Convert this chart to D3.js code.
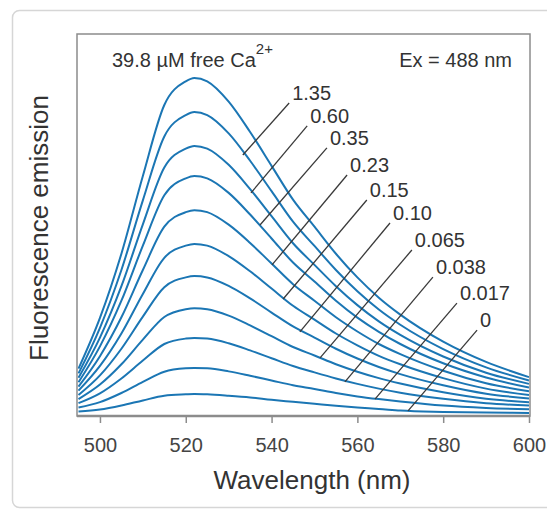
<!DOCTYPE html>
<html>
<head>
<meta charset="utf-8">
<script src="https://cdn.jsdelivr.net/npm/d3@7"></script>
<style>
  body { margin: 0; background: #fff; }
  svg { display: block; font-family: "Liberation Sans", Arial, sans-serif; }
</style>
</head>
<body>
<div id="chart"></div>
<script>
// wavelengths sampled along every curve (nm)
const wavelengths = [495, 500, 505, 510, 515, 520, 522, 525, 530, 535, 540, 545, 550, 555, 560, 565, 570, 580, 590, 600];

// free Ca2+ (uM), top curve first
const concentrations = ['39.8', '1.35', '0.60', '0.35', '0.23', '0.15', '0.10', '0.065', '0.038', '0.017', '0'];

// fluorescence emission (arbitrary units)
const em398  = [14.0, 29.0, 48.0, 71.0, 92.0, 99.0, 100, 99.0, 93.0, 84.0, 74.0, 64.0, 56.0, 48.0, 41.0, 35.0, 30.0, 22.0, 16.0, 11.5];
const em135  = [12.6, 26.1, 43.2, 63.8, 82.7, 89.0, 89.9, 89.0, 83.6, 75.5, 66.5, 57.5, 50.3, 43.2, 36.9, 31.5, 27.0, 19.8, 14.4, 10.5];
const em060  = [11.3, 23.2, 38.4, 56.7, 73.5, 79.1, 79.9, 79.1, 74.3, 67.1, 59.1, 51.1, 44.7, 38.4, 32.8, 28.0, 24.0, 17.6, 12.8, 9.5];
const em035  = [10.0, 20.6, 34.1, 50.4, 65.3, 70.3, 71.0, 70.3, 66.0, 59.6, 52.5, 45.4, 39.8, 34.1, 29.1, 24.9, 21.3, 15.6, 11.4, 8.4];
const em023  = [8.7, 17.7, 29.2, 43.2, 56.0, 60.3, 60.9, 60.3, 56.6, 51.2, 45.1, 39.0, 34.1, 29.2, 25.0, 21.3, 18.3, 13.4, 9.7, 7.3];
const em015  = [7.5, 14.8, 24.4, 36.1, 46.8, 50.4, 50.9, 50.4, 47.3, 42.8, 37.7, 32.6, 28.5, 24.4, 20.9, 17.8, 15.3, 11.2, 8.1, 6.2];
const em010  = [6.2, 12.0, 19.9, 29.4, 38.1, 41.0, 41.4, 41.0, 38.5, 34.8, 30.6, 26.5, 23.2, 19.9, 17.0, 14.5, 12.4, 9.1, 6.6, 5.2];
const em0065 = [5.0, 9.3, 15.3, 22.6, 29.3, 31.6, 31.9, 31.6, 29.7, 26.8, 23.6, 20.4, 17.9, 15.3, 13.1, 11.2, 9.6, 7.0, 5.1, 4.1];
const em0038 = [3.8, 6.7, 11.1, 16.4, 21.3, 22.9, 23.1, 22.9, 21.5, 19.4, 17.1, 14.8, 12.9, 11.1, 9.5, 8.1, 6.9, 5.1, 3.8, 3.1];
const em0017 = [2.5, 4.1, 6.8, 10.1, 13.1, 14.1, 14.2, 14.1, 13.2, 11.9, 10.5, 9.1, 8.0, 6.8, 5.8, 5.0, 4.3, 3.1, 2.4, 2.0];
const em0    = [1.3, 1.9, 3.1, 4.6, 6.0, 6.4, 6.5, 6.4, 6.0, 5.5, 4.8, 4.2, 3.6, 3.0, 2.5, 2.1, 1.6, 1.2, 1.0, 0.9];
const series = [em398, em135, em060, em035, em023, em015, em010, em0065, em0038, em0017, em0];

// leader lines for the labelled curves (1.35 ... 0): start on curve, end at label
const leaderStartNm = [533.3, 535.2, 537.3, 540.1, 542.7, 546.6, 551.3, 557.1, 564.1, 571.8];
const leaderStartEm = [77.2, 66.0, 56.5, 44.7, 34.6, 24.9, 17.2, 10.1, 5.0, 1.5];
const leaderEndNm   = [544.1, 548.3, 552.9, 557.6, 562.2, 567.6, 572.7, 577.6, 583.2, 587.9];
const leaderEndEm   = [92.6, 85.8, 79.3, 71.3, 63.9, 57.1, 49.1, 41.1, 33.4, 25.4];

const xTicks = [500, 520, 540, 560, 580, 600];

const W = 547, H = 510;
const plot = {left: 77, top: 34, right: 530, bottom: 416};
const blue = '#1b76b4';

const svg = d3.select('#chart').append('svg')
    .attr('width', W)
    .attr('height', H);

// card outline
svg.append('rect')
    .attr('x', 12.5).attr('y', 10.5)
    .attr('width', 560).attr('height', 497)
    .attr('rx', 7)
    .style('fill', 'none')
    .style('stroke', '#d6d6d6')
    .style('stroke-width', 1.5);

const x = d3.scaleLinear().domain([495, 600]).range([78.5, 529]);
const y = d3.scaleLinear().domain([0, 113]).range([plot.bottom, plot.top]);

svg.append('clipPath').attr('id', 'plotClip')
  .append('rect')
    .attr('x', plot.left).attr('y', plot.top)
    .attr('width', plot.right - plot.left).attr('height', plot.bottom - plot.top);

const line = d3.line()
    .x((d, i) => x(wavelengths[i]))
    .y((d) => y(d))
    .curve(d3.curveMonotoneX);

svg.append('g')
    .attr('clip-path', 'url(#plotClip)')
  .selectAll('.curve')
    .data(series)
  .enter()
    .append('path')
    .attr('class', 'curve')
    .attr('d', line)
    .style('fill', 'none')
    .style('stroke', blue)
    .style('stroke-width', 2);

// leaders + labels
const labels = concentrations.slice(1);
svg.selectAll('.leader')
    .data(labels)
  .enter()
    .append('line')
    .attr('x1', (d, i) => x(leaderStartNm[i]))
    .attr('y1', (d, i) => y(leaderStartEm[i]))
    .attr('x2', (d, i) => x(leaderEndNm[i]))
    .attr('y2', (d, i) => y(leaderEndEm[i]))
    .style('stroke', '#3a3a3a')
    .style('stroke-width', 1.3);
svg.selectAll('.leader-text')
    .data(labels)
  .enter()
    .append('text')
    .attr('x', (d, i) => x(leaderEndNm[i]) + 3)
    .attr('y', (d, i) => y(leaderEndEm[i]) - 3)
    .style('font-size', '20px')
    .style('fill', '#333')
    .text((d) => d);

// frame
svg.append('rect')
    .attr('x', plot.left).attr('y', plot.top)
    .attr('width', plot.right - plot.left).attr('height', plot.bottom - plot.top)
    .style('fill', 'none')
    .style('stroke', '#8c8c8c')
    .style('stroke-width', 1.5);

const xAxis = svg.append('g')
    .attr('transform', 'translate(0,' + plot.bottom + ')')
    .call(d3.axisBottom(x).tickValues(xTicks).tickSize(7).tickSizeOuter(0).tickPadding(15));
xAxis.select('.domain').remove();
xAxis.append('line')
    .attr('x1', plot.left).attr('x2', plot.right)
    .style('stroke', '#8c8c8c').style('stroke-width', 2.5);
xAxis.selectAll('.tick line').style('stroke', '#8c8c8c').style('stroke-width', 1.5);
xAxis.selectAll('.tick text')
    .style('font-size', '20px')
    .style('font-family', '"Liberation Sans", Arial, sans-serif')
    .style('fill', '#444');

svg.append('text')
    .attr('x', 312).attr('y', 489)
    .attr('text-anchor', 'middle')
    .style('font-size', '26px')
    .style('fill', '#333')
    .text('Wavelength (nm)');

svg.append('text')
    .attr('transform', 'translate(48,228) rotate(-90)')
    .attr('text-anchor', 'middle')
    .style('font-size', '26px')
    .style('fill', '#333')
    .text('Fluorescence emission');

// annotations
const caText = svg.append('text')
    .attr('x', 112).attr('y', 67)
    .style('font-size', '20px')
    .style('fill', '#333');
caText.append('tspan').text('39.8 \u00b5M free Ca');
caText.append('tspan')
    .attr('dy', -13)
    .style('font-size', '15px')
    .text('2+');

svg.append('text')
    .attr('x', 512).attr('y', 67)
    .attr('text-anchor', 'end')
    .style('font-size', '20px')
    .style('fill', '#333')
    .text('Ex = 488 nm');
</script>
</body>
</html>
